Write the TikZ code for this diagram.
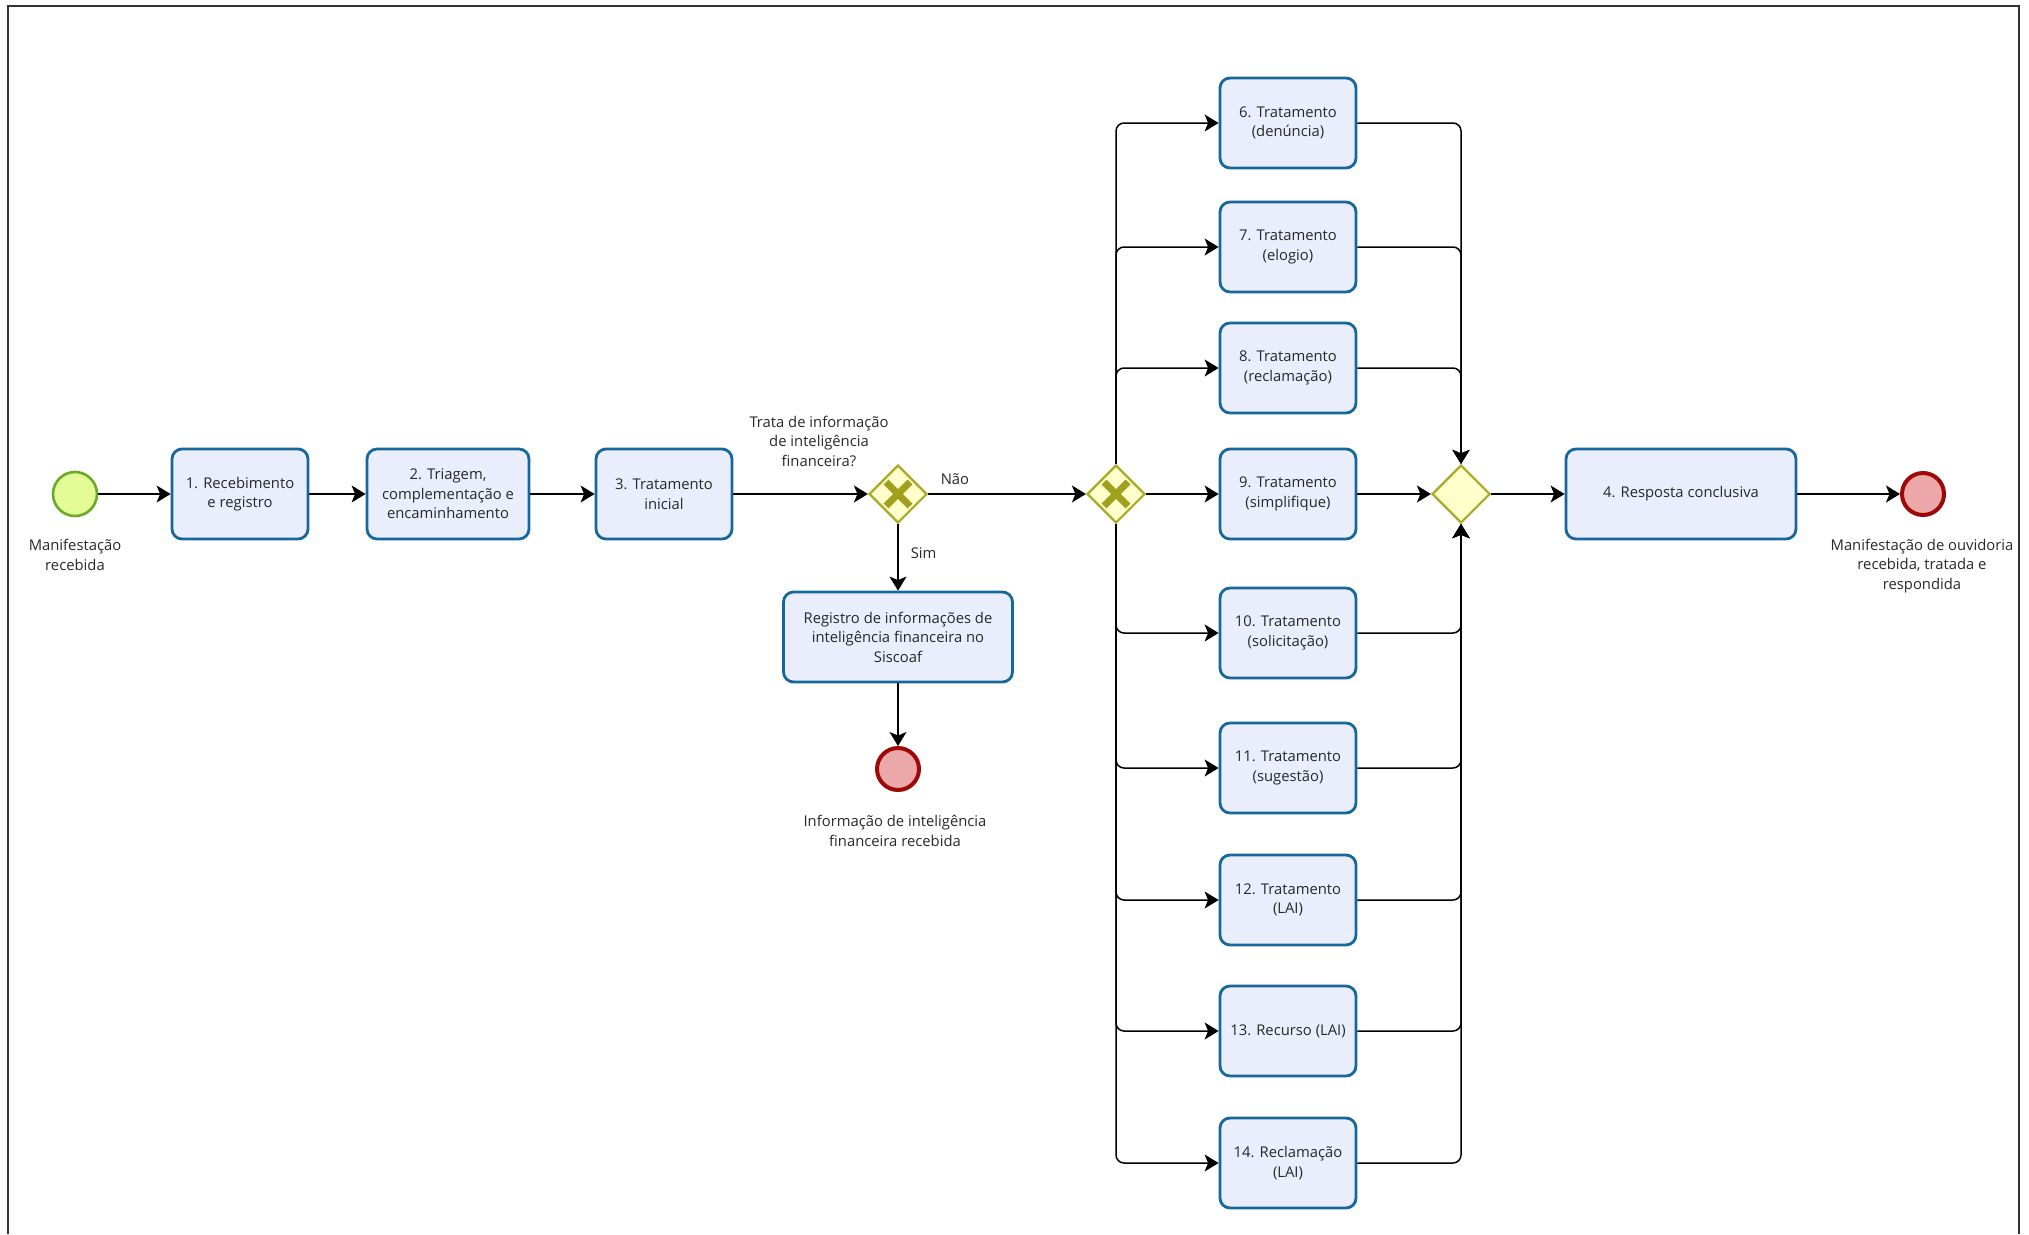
\documentclass[tikz,border=0pt]{standalone}
\usepackage{fontspec}
\setmainfont{Open Sans}
\usepackage{tikz}
\usetikzlibrary{arrows.meta}
\usetikzlibrary{shapes.geometric}

\definecolor{taskfill}{RGB}{233,237,252}
\definecolor{taskline}{RGB}{22,104,156}
\definecolor{txt}{RGB}{40,40,40}
\definecolor{startfill}{RGB}{228,252,150}
\definecolor{startline}{RGB}{106,170,40}
\definecolor{endfill}{RGB}{236,168,168}
\definecolor{endline}{RGB}{160,8,8}
\definecolor{gatefill}{RGB}{255,255,204}
\definecolor{gateline}{RGB}{170,170,40}
\definecolor{gatemark}{RGB}{160,160,30}

\begin{document}
\begin{tikzpicture}[x=1pt,y=-1pt,
	font=\fontsize{14.8}{19.5}\selectfont,
	>={Stealth[length=14pt,width=17pt,inset=3.5pt]},
	flow/.style={->,line width=1.5pt,black,rounded corners=8pt},
	task/.style={
		draw=taskline, % General options for all tasks
		fill=taskfill,
		line width=2.8pt,
		rounded corners=10pt,
		text=txt,
		align=center,
		inner sep=2pt,
		minimum width=136pt,
		minimum height=90pt,
	},
	startev/.style={circle,draw=startline,fill=startfill,line width=2.6pt,minimum size=44pt,inner sep=0pt},
	endev/.style={circle,draw=endline,fill=endfill,line width=4pt,minimum size=42pt,inner sep=0pt},
	gate/.style={diamond,aspect=1,draw=gateline,fill=gatefill,line width=2.2pt,minimum width=58pt,minimum height=58pt,inner sep=0pt},
	xgate/.style={gate,path picture={
		\draw[gatemark,line width=7pt]
			([shift={(-12pt,-12pt)}]path picture bounding box.center) -- ([shift={(12pt,12pt)}]path picture bounding box.center)
			([shift={(-12pt,12pt)}]path picture bounding box.center) -- ([shift={(12pt,-12pt)}]path picture bounding box.center);
	}},
	lbl/.style={text=txt,align=center,inner sep=0pt},
]
	\useasboundingbox (0,0) rectangle (2029,1234);
	\draw[line width=2pt,black!80] (8,1234) -- (8,5.5) -- (2019,5.5) -- (2019,1234);

	% main line
	\node[startev] (start) at (75,494) {};
	\node[lbl] (startlbl) at (75,555) {Manifestação\\recebida};
	\node[task] (t1) at (240,494) {1. Recebimento\\e registro};
	\node[task,minimum width=162pt] (t2) at (448,494) {2. Triagem,\\complementação e\\encaminhamento};
	\node[task] (t3) at (664,494) {3. Tratamento\\inicial};
	\node[xgate] (gw1) at (898,494) {};
	\node[lbl] (question) at (819,441) {Trata de informação\\de inteligência\\financeira?};
	\node[task,minimum width=229pt] (reg) at (898,637) {Registro de informações de\\inteligência financeira no\\Siscoaf};
	\node[endev] (end1) at (898,769) {};
	\node[lbl] (end1lbl) at (895,831) {Informação de inteligência\\financeira recebida};
	\node[xgate] (gw2) at (1116,494) {};
	\node[gate] (gw3) at (1461,494) {};
	\node[task,minimum width=230pt] (t4) at (1681,494) {4. Resposta conclusiva};
	\node[endev] (end2) at (1923,494) {};
	\node[lbl] (end2lbl) at (1922,566) {Manifestação de ouvidoria\\recebida, tratada e\\respondida};

	% branches
	\foreach \n/\y/\txt in {
		6/123/{6. Tratamento\\(denúncia)},
		7/247/{7. Tratamento\\(elogio)},
		8/368/{8. Tratamento\\(reclamação)},
		9/494/{9. Tratamento\\(simplifique)},
		10/633/{10. Tratamento\\(solicitação)},
		11/768/{11. Tratamento\\(sugestão)},
		12/900/{12. Tratamento\\(LAI)},
		13/1031/{13. Recurso (LAI)},
		14/1163/{14. Reclamação\\(LAI)}}{
		\node[task] (t\n) at (1288,\y) {\txt};
	}

	\draw[flow] (start) -- (t1);
	\draw[flow] (t1) -- (t2);
	\draw[flow] (t2) -- (t3);
	\draw[flow] (t3) -- (gw1);
	\draw[flow] (gw1) -- node[pos=0.17,above=9pt,lbl] (nao) {Não} (gw2);
	\draw[flow] (gw1) -- node[pos=0.43,right=12pt,lbl] (sim) {Sim} (reg);
	\draw[flow] (reg) -- (end1);
	\draw[flow] (gw2) -- (t9);
	\draw[flow] (t9) -- (gw3);
	\foreach \n in {6,7,8}{
		\draw[flow] (gw2.north) |- (t\n.west);
		\draw[flow] (t\n.east) -| (gw3.north);
	}
	\foreach \n in {10,...,14}{
		\draw[flow] (gw2.south) |- (t\n.west);
		\draw[flow] (t\n.east) -| (gw3.south);
	}
	\draw[flow] (gw3) -- (t4);
	\draw[flow] (t4) -- (end2);
\end{tikzpicture}
\end{document}
